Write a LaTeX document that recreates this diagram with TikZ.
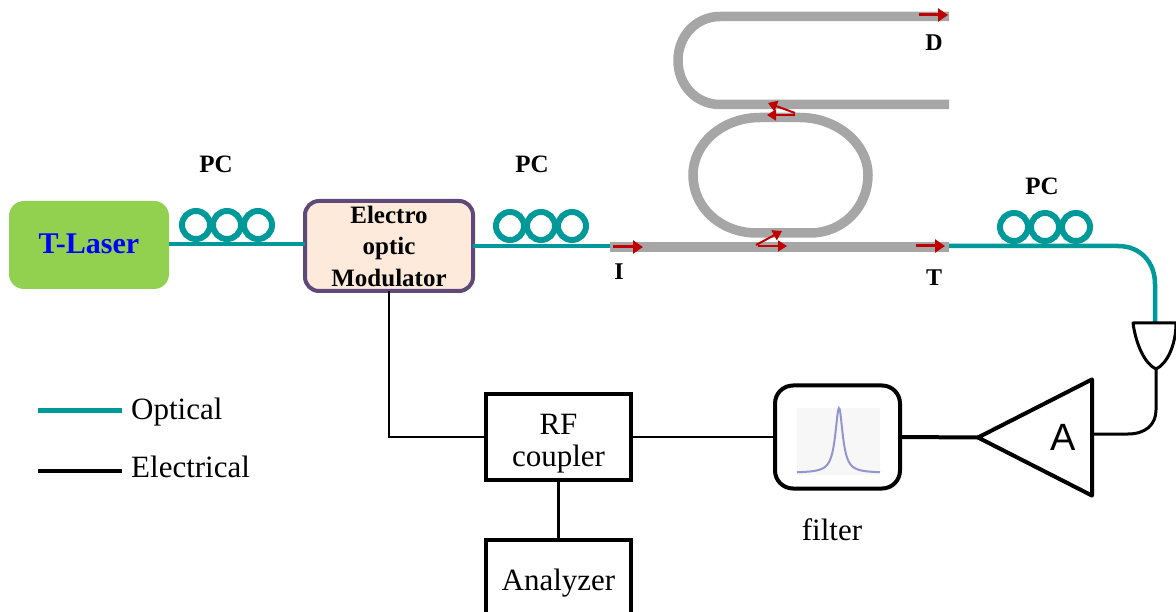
\documentclass[tikz,border=0pt]{standalone}
\usepackage{fontspec}
\setmainfont{Liberation Serif}
\newfontfamily\ampfont{Liberation Sans}
\usetikzlibrary{shapes.geometric, arrows.meta, positioning, calc}
\definecolor{fibercol}{HTML}{009999}
\definecolor{guidecol}{HTML}{A6A6A6}
\definecolor{markcol}{HTML}{C00000}
\tikzset{
  laserbox/.style={
    rectangle, rounded corners=15pt, outer sep=0pt, inner sep=0pt,
    minimum width=160pt, minimum height=88pt,
    fill={rgb,255:red,146;green,208;blue,80},
    text=blue, font=\fontsize{30}{32}\selectfont\bfseries
  },
  modbox/.style={
    rectangle, rounded corners=14pt, outer sep=0pt, inner sep=0pt,
    minimum width=168pt, minimum height=90pt,
    line width=4pt, draw={rgb,255:red,95;green,73;blue,122},
    fill={rgb,255:red,253;green,234;blue,218},
    text width=168pt, align=center,
    font=\fontsize{25}{31.5}\selectfont\bfseries
  },
  rfbox/.style={
    rectangle, outer sep=0pt, inner sep=0pt,
    minimum width=145pt, minimum height=86pt,
    line width=3.5pt, draw=black,
    text width=145pt, align=center,
    font=\fontsize{31}{32}\selectfont
  },
  filterbox/.style={
    rectangle, rounded corners=18pt, outer sep=0pt,
    minimum width=125pt, minimum height=103pt,
    line width=4pt, draw=black
  },
  ampnode/.style={
    isosceles triangle, shape border rotate=180,
    isosceles triangle apex angle=54,
    minimum height=114pt, inner sep=0pt, outer sep=0pt,
    line width=4pt, draw=black, line join=round
  },
  coil/.style={
    circle, minimum size=28pt, inner sep=0pt, outer sep=0pt,
    line width=6pt, draw=fibercol
  },
  fiber/.style={line width=4.5pt, fibercol},
  elec/.style={line width=2.5pt, black},
  guide/.style={line width=9.5pt, guidecol},
  flow/.style={-{Triangle[length=10pt, width=13pt]}, line width=3pt, markcol},
  thinflow/.style={-{Triangle[length=9pt, width=11pt]}, line width=1.5pt, markcol},
  portlabel/.style={font=\fontsize{25}{28}\selectfont\bfseries, inner sep=0pt},
  smalllabel/.style={font=\fontsize{24}{26}\selectfont\bfseries, inner sep=0pt},
  plainlabel/.style={font=\fontsize{31}{32}\selectfont, inner sep=0pt}
}

\begin{document}
\begin{tikzpicture}[x=1pt, y=-1pt]
  \useasboundingbox (0,0) rectangle (1176,612);

  % Optical blocks
  \node[laserbox] (laser) at (89,245) {\raisebox{3pt}{T-Laser}};
  \node[modbox, right=136pt of laser, yshift=-1pt] (eom) {Electro\\optic\\Modulator};

  % Polarization controllers
  \node[coil] (pca1) at (196,225) {};
  \node[coil, right=3pt of pca1] (pca2) {};
  \node[coil, right=3pt of pca2] (pca3) {};
  \node[coil] (pcb1) at (510,226) {};
  \node[coil, right=3pt of pcb1] (pcb2) {};
  \node[coil, right=3pt of pcb2] (pcb3) {};
  \node[coil] (pcc1) at (1014,227) {};
  \node[coil, right=3pt of pcc1] (pcc2) {};
  \node[coil, right=3pt of pcc2] (pcc3) {};
  \node[portlabel] (pcalabel) at (216,164) {PC};
  \node[portlabel] (pcblabel) at (532,164) {PC};
  \node[portlabel] (pcclabel) at (1042,186) {PC};

  % Ports of the chip
  \coordinate (busin) at (610,247);
  \coordinate (busout) at (949,247);
  \coordinate (dropout) at (949,16.5);
  \coordinate (addout) at (949,104.5);

  % Fibers
  \draw[fiber] (laser.east |- 0,244) -- (eom.west |- 0,244);
  \draw[fiber] (eom.east) -- (busin |- eom.east);
  \coordinate (detin) at (1155,323);
  \draw[fiber] (busout |- 0,246) -- (1118,246)
    .. controls (1140,246) and (1155,262) .. (1155,284) -- (detin);

  % Chip waveguides
  \draw[guide] (busin) -- (busout);
  \draw[guide] (dropout) -- (720,16.5)
    .. controls (696,16.5) and (678,36) .. (678,60.5)
    .. controls (678,85) and (696,104.5) .. (720,104.5) -- (addout);
  \draw[guide] (757,233) -- (810,233)
    .. controls (843,233) and (868,207) .. (868,175)
    .. controls (868,143) and (836,117.5) .. (800,117.5) -- (760,117.5)
    .. controls (723,117.5) and (693,143) .. (693,175)
    .. controls (693,207) and (720,233) .. (757,233) -- cycle;

  % Direction marks
  \draw[flow] (613,247) -- (643,247);
  \draw[flow] (916,246) -- (945,246);
  \draw[flow] (919,15) -- (948,15);
  \draw[thinflow] (758,246) -- (787,246);
  \draw[thinflow, line width=2pt] (756,245) -- (782,231);
  \draw[thinflow] (795,115) -- (767,115);
  \draw[thinflow, line width=2pt] (795,113) -- (768,103);

  \node[smalllabel] (dlabel) at (934,43) {D};
  \node[smalllabel] (ilabel) at (619,272) {I};
  \node[smalllabel] (tlabel) at (934,278) {T};

  % Electrical blocks
  \node[rfbox, text height=33pt] (rf) at (558.5,437) {RF\\coupler};
  \node[rfbox, below=60pt of rf] (analyzer) {\raisebox{2pt}{Analyzer}};
  \node[filterbox, right=144pt of rf] (filter) {};
  \node[plainlabel] (filterlabel) at (832,530) {filter};
  \node[ampnode, anchor=apex] (amp) at (978,437.5) {};
  \node[font=\fontsize{38}{40}\selectfont\ampfont, inner sep=0pt] (ampletter) at (1063,437) {A};

  % Filter response
  \fill[black!3] (797,408) rectangle (880,475);
  \draw[line width=2pt, blue!60!black, opacity=.4, domain=797:880, samples=120, smooth]
    plot (\x, {473-65/(1+((\x-839)/4.5)^2)});

  % Photodiode
  \coordinate (detout) at (1156,369);
  \draw[line width=3pt, line join=round] (1133,323) -- (1176,323)
    .. controls (1176,345) and (1167,364) .. (detout)
    .. controls (1145,364) and (1136,345) .. (1133,323) -- cycle;

  % Electrical lines
  \draw[elec] (eom.south) |- (rf.west);
  \draw[elec] (rf.south) -- (analyzer.north);
  \draw[elec] (rf.east) -- (filter.west);
  \draw[line width=4pt] (filter.east) -- (amp.apex);
  \draw[line width=3pt] (amp.lower side |- 0,434) -- (1128,434)
    .. controls (1145,434) and (1156,425) .. (1156,410) -- (detout);

  % Legend
  \coordinate (optleft) at (38,410);
  \coordinate (optright) at (122,410);
  \coordinate (elecleft) at (38,471);
  \coordinate (elecright) at (122,471);
  \draw[fiber, line width=5pt] (optleft) -- (optright);
  \draw[elec, line width=4pt] (elecleft) -- (elecright);
  \node[plainlabel, anchor=base west] (optlabel) at (131,419) {Optical};
  \node[plainlabel, anchor=base west] (eleclabel) at (131,477) {Electrical};
\end{tikzpicture}
\end{document}
